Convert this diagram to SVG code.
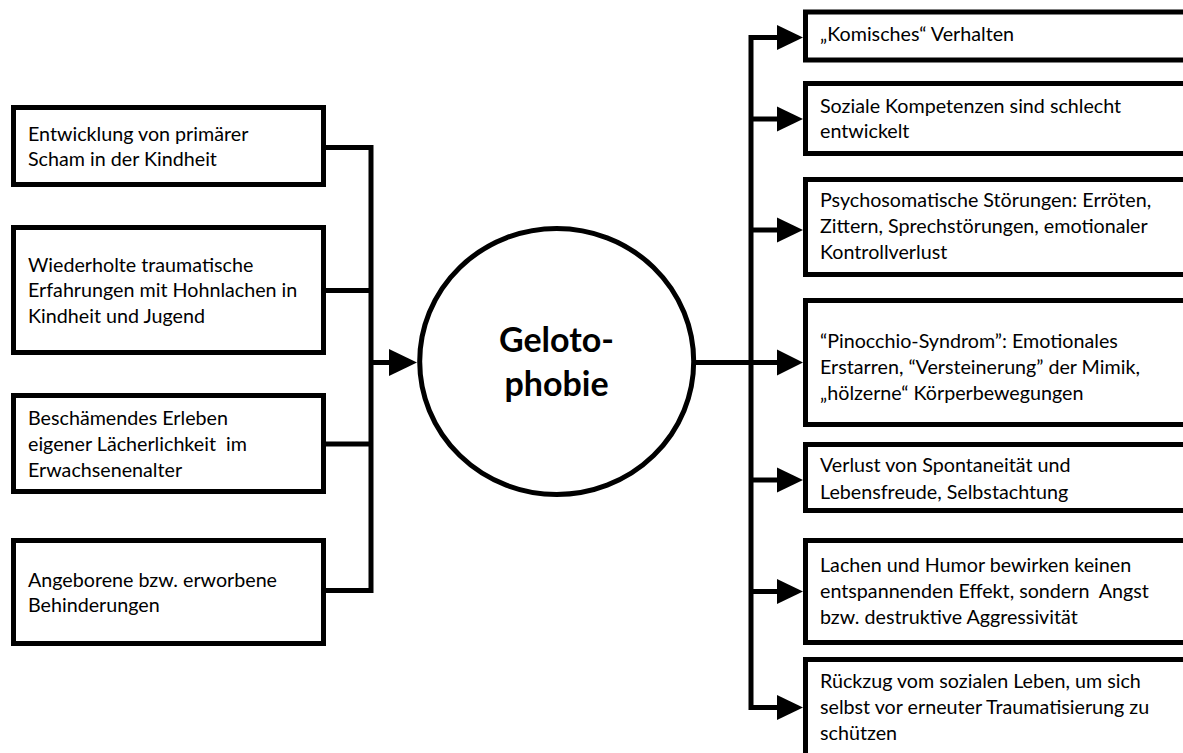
<svg xmlns="http://www.w3.org/2000/svg" width="1183" height="753" viewBox="0 0 1183 753">
  <style>
    .box { fill: #ffffff; stroke: #000000; stroke-width: 5; }
    .txt { font-family: Lato, "Open Sans", "Liberation Sans", sans-serif; font-size: 19.7px; fill: #000000; }
    .title { font-family: Lato, "Open Sans", "Liberation Sans", sans-serif; font-size: 34px; font-weight: bold; fill: #000000; text-anchor: middle; }
    .wire { fill: none; stroke: #000000; stroke-width: 5; stroke-linejoin: miter; stroke-linecap: butt; }
    .head { fill: #000000; stroke: none; }
  </style>
  <rect x="0" y="0" width="1183" height="753" fill="#ffffff"/>

  <g id="connectors">
    <path class="wire" d="M326,147.5 H371 V590.5 H326"/>
    <path class="wire" d="M326,290.5 H371"/>
    <path class="wire" d="M326,444 H371"/>
    <path class="wire" d="M371,362.5 H390"/>
    <polygon class="head" points="389,349 417,362.5 389,376"/>
    <path class="wire" d="M694,362.5 H778"/>
    <path class="wire" d="M778,37.5 H751 V707.5 H778"/>
    <path class="wire" d="M751,119 H778"/>
    <path class="wire" d="M751,230 H778"/>
    <path class="wire" d="M751,480 H778"/>
    <path class="wire" d="M751,591.5 H778"/>
    <polygon class="head" points="777,25 803,37.5 777,50"/>
    <polygon class="head" points="777,106.5 803,119 777,131.5"/>
    <polygon class="head" points="777,217.5 803,230 777,242.5"/>
    <polygon class="head" points="777,349.5 803,362.5 777,375.5"/>
    <polygon class="head" points="777,467.5 803,480 777,492.5"/>
    <polygon class="head" points="777,579 803,591.5 777,604"/>
    <polygon class="head" points="777,695 803,707.5 777,720"/>
  </g>

  <g id="center">
    <ellipse cx="556.7" cy="361.5" rx="137" ry="133" fill="#ffffff" stroke="#000000" stroke-width="5"/>
    <text class="title" x="556.5" y="351.7">Geloto-</text>
    <text class="title" x="556.5" y="395.7">phobie</text>
  </g>

  <g id="cause1">
    <rect class="box" x="13.5" y="107.5" width="310" height="77"/>
    <text class="txt" x="28" y="140.7">Entwicklung von primärer</text>
    <text class="txt" x="28" y="166">Scham in der Kindheit</text>
  </g>
  <g id="cause2">
    <rect class="box" x="13.5" y="227.5" width="310" height="125"/>
    <text class="txt" x="28" y="271.7">Wiederholte traumatische</text>
    <text class="txt" x="28" y="297.3">Erfahrungen mit Hohnlachen in</text>
    <text class="txt" x="28" y="322.7">Kindheit und Jugend</text>
  </g>
  <g id="cause3">
    <rect class="box" x="13.5" y="395.5" width="310" height="96"/>
    <text class="txt" x="28" y="425">Beschämendes Erleben</text>
    <text class="txt" x="28" y="450.7" xml:space="preserve">eigener Lächerlichkeit  im</text>
    <text class="txt" x="28" y="477.3">Erwachsenenalter</text>
  </g>
  <g id="cause4">
    <rect class="box" x="13.5" y="540.5" width="310" height="103"/>
    <text class="txt" x="28" y="586.7">Angeborene bzw. erworbene</text>
    <text class="txt" x="28" y="611.7">Behinderungen</text>
  </g>

  <g id="effect1">
    <rect class="box" x="805.5" y="12" width="400" height="48"/>
    <text class="txt" x="820" y="40.7">„Komisches“ Verhalten</text>
  </g>
  <g id="effect2">
    <rect class="box" x="805.5" y="83.5" width="400" height="70"/>
    <text class="txt" x="820" y="113.3">Soziale Kompetenzen sind schlecht</text>
    <text class="txt" x="820" y="138.3">entwickelt</text>
  </g>
  <g id="effect3">
    <rect class="box" x="805.5" y="179.5" width="400" height="95"/>
    <text class="txt" x="820" y="207.3">Psychosomatische Störungen: Erröten,</text>
    <text class="txt" x="820" y="233.3">Zittern, Sprechstörungen, emotionaler</text>
    <text class="txt" x="820" y="259">Kontrollverlust</text>
  </g>
  <g id="effect4">
    <rect class="box" x="805.5" y="300.5" width="400" height="124"/>
    <text class="txt" x="820" y="348.3">“Pinocchio-Syndrom”: Emotionales</text>
    <text class="txt" x="820" y="374">Erstarren, “Versteinerung” der Mimik,</text>
    <text class="txt" x="820" y="400">„hölzerne“ Körperbewegungen</text>
  </g>
  <g id="effect5">
    <rect class="box" x="805.5" y="444.5" width="400" height="66"/>
    <text class="txt" x="820" y="472.3">Verlust von Spontaneität und</text>
    <text class="txt" x="820" y="499">Lebensfreude, Selbstachtung</text>
  </g>
  <g id="effect6">
    <rect class="box" x="805.5" y="540.5" width="400" height="102"/>
    <text class="txt" x="820" y="572.3">Lachen und Humor bewirken keinen</text>
    <text class="txt" x="820" y="598.3" xml:space="preserve">entspannenden Effekt, sondern  Angst</text>
    <text class="txt" x="820" y="624.3">bzw. destruktive Aggressivität</text>
  </g>
  <g id="effect7">
    <rect class="box" x="805.5" y="659.5" width="400" height="120"/>
    <text class="txt" x="820" y="688.3">Rückzug vom sozialen Leben, um sich</text>
    <text class="txt" x="820" y="714">selbst vor erneuter Traumatisierung zu</text>
    <text class="txt" x="820" y="740">schützen</text>
  </g>
</svg>
